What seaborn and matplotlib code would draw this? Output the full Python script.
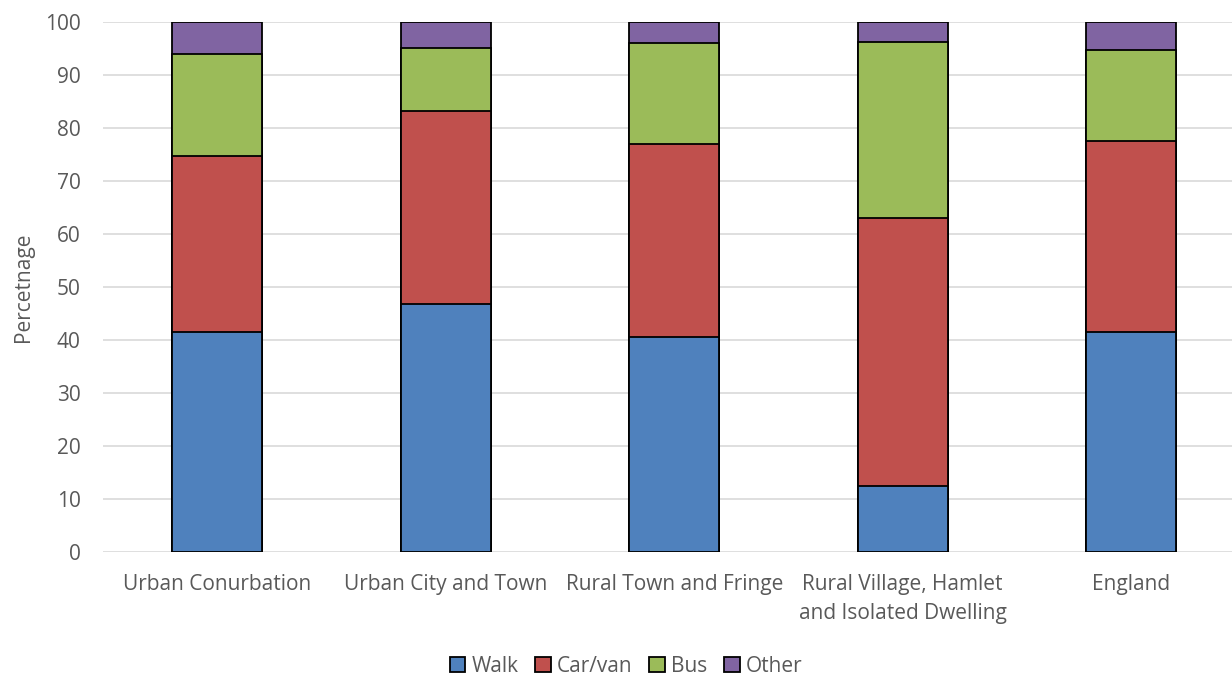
import pandas as pd
import numpy as np
import matplotlib.pyplot as plt
import seaborn as sns
from matplotlib.patches import Patch

# data (percentages)
areas = ["Urban Conurbation", "Urban City and Town", "Rural Town and Fringe",
         "Rural Village, Hamlet\nand Isolated Dwelling", "England"]
walk = [41.5, 46.8, 40.6, 12.5, 41.5]
car_van = [33.2, 36.4, 36.4, 50.5, 36.0]
bus = [19.3, 11.9, 19.0, 33.2, 17.2]
other = [6.0, 4.9, 4.0, 3.8, 5.3]

modes = ["Walk", "Car/van", "Bus", "Other"]
colors = ["#4f81bd", "#c0504d", "#9bbb59", "#8064a2"]

df = pd.DataFrame({"area": areas, "Walk": walk, "Car/van": car_van,
                   "Bus": bus, "Other": other})
cum = df[modes].cumsum(axis=1)

sns.set_style("white")
plt.rcParams["font.family"] = ["Open Sans", "DejaVu Sans"]

fig = plt.figure(figsize=(12.32, 6.75), dpi=100)
ax = fig.add_axes([103 / 1232, 1 - 552 / 675, 1 - 103 / 1232, 530 / 675])

# draw tallest cumulative first so lower segments sit on top
for mode, col in reversed(list(zip(modes, colors))):
    sns.barplot(x=df["area"], y=cum[mode], color=col, saturation=1, width=0.395,
                edgecolor="black", linewidth=1.3, ax=ax, zorder=3)

ax.set_ylim(0, 100)
ax.set_xlim(-0.5, -0.5 + (1232 - 103) / 228.5)
ax.set_yticks(range(0, 101, 10))
ax.yaxis.grid(True, color="#d9d9d9", linewidth=1.2, zorder=0)
ax.set_axisbelow(True)
for s in ax.spines.values():
    s.set_visible(False)
ax.set_xlabel("")
ax.set_ylabel("Percetnage", fontsize=15, color="#595959", labelpad=8)
ax.tick_params(axis="both", length=0, labelsize=15, labelcolor="#595959")
ax.tick_params(axis="y", pad=16)
ax.tick_params(axis="x", pad=16)
for lbl in ax.get_xticklabels():
    lbl.set_linespacing(1.5)

handles = [Patch(facecolor=c, edgecolor="black", linewidth=1.3, label=m)
           for m, c in zip(modes, colors)]
fig.legend(handles=handles, loc="center", bbox_to_anchor=(626 / 1232, 1 - 666 / 675),
           ncol=4, frameon=False, fontsize=15, labelcolor="#595959",
           handlelength=0.75, handleheight=0.75, handletextpad=0.3, columnspacing=0.8)

fig.savefig("out.png", dpi=100)
